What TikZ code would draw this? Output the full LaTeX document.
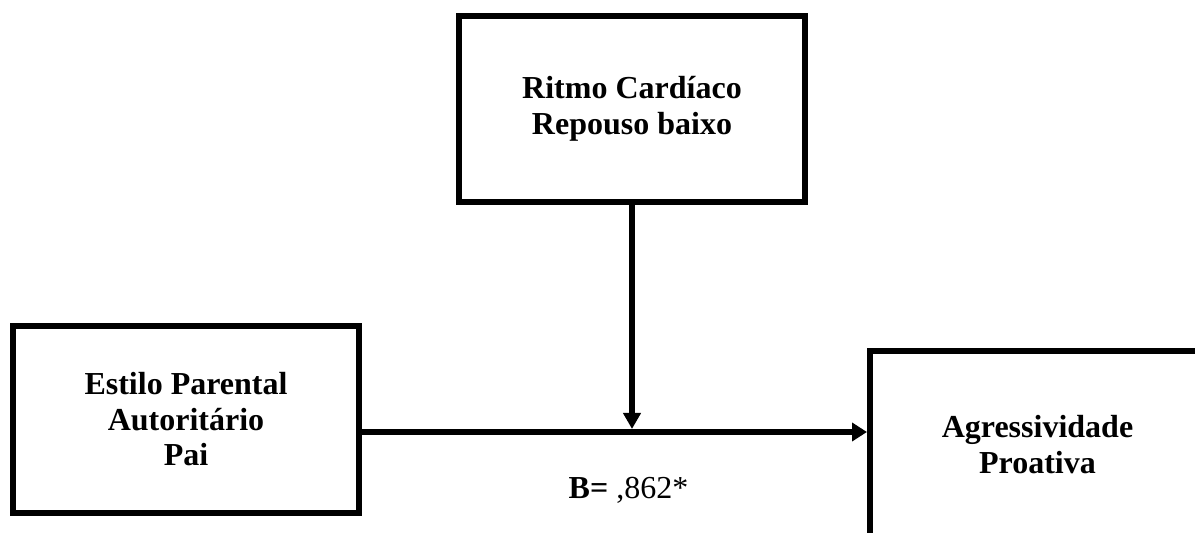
\documentclass[tikz,border=0pt]{standalone}
\usepackage{fontspec}
\setmainfont{Liberation Serif}
\usetikzlibrary{arrows.meta}
\begin{document}
\begin{tikzpicture}[x=1pt,y=1pt,
  varbox/.style={draw=black, line width=6pt, minimum width=346pt, minimum height=186pt,
    inner sep=0pt, align=center, font=\fontsize{32}{35.5}\selectfont\bfseries},
  conn/.style={line width=6pt},
  tipH/.style={-{Triangle[length=15pt,width=18pt]}},
  tipV/.style={-{Triangle[length=16pt,width=17pt]}}]
\useasboundingbox (0,0) rectangle (1195,533);
\clip (0,0) rectangle (1195,533);
\node[varbox] (top) at (632,424) {Ritmo Cardíaco\\Repouso baixo};
\node[varbox, minimum height=187pt] (left) at (186,113.5) {Estilo Parental\\Autoritário\\Pai};
\node[varbox, minimum width=335pt, minimum height=187pt] (right) at (1037.5,88.5) {Agressividade\\Proativa};
\coordinate (j) at (632,101);
\draw[conn, tipH] (left.east |- j) -- (right.west |- j);
\draw[conn, tipV, shorten >=3pt] (top.south) -- (j);
\node[anchor=base, inner sep=0pt, font=\fontsize{32}{35.5}\selectfont] (lab) at (628.5,34) {\textbf{B=} ,862*};
\end{tikzpicture}
\end{document}
